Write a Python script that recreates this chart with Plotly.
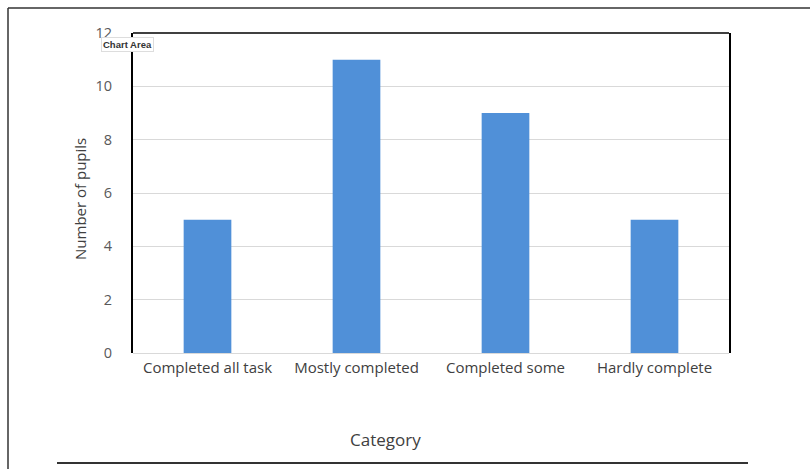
import plotly.graph_objects as go

categories = ["Completed all task", "Mostly completed", "Completed some", "Hardly complete"]
pupils = [5, 11, 9, 5]
y_ticks = [0, 2, 4, 6, 8, 10, 12]
x_title = "Category"
y_title = "Number of pupils"

W, H = 810, 469
L, R, T, B = 133, 729, 33, 353  # plot area pixel box

def px(x):
    return (x - L) / (R - L)

def py(y):
    return (B - y) / (B - T)

fig = go.Figure(go.Bar(
    x=categories, y=pupils,
    marker=dict(color="#5090d8", line=dict(width=0)),
    width=0.32,
))

font_fam = "Open Sans, DejaVu Sans, sans-serif"
fig.update_layout(
    width=W, height=H,
    margin=dict(l=L, r=W - R, t=T, b=H - B),
    paper_bgcolor="white", plot_bgcolor="white",
    showlegend=False,
    font=dict(family=font_fam, color="#595959", size=13),
    xaxis=dict(
        showgrid=False, showline=False, zeroline=False,
        tickfont=dict(size=15, color="#404040"),
        ticklabelstandoff=4,
    ),
    yaxis=dict(
        range=[0, 12], tickvals=y_ticks,
        showgrid=True, gridcolor="#d9d9d9", gridwidth=1,
        zeroline=True, zerolinecolor="#d9d9d9", zerolinewidth=1,
        showline=True, linecolor="black", linewidth=2, mirror=True,
        tickfont=dict(size=14.5, color="#595959"),
        ticklabelstandoff=16,
    ),
    shapes=[
        # top frame of plot area
        dict(type="line", xref="paper", yref="paper", x0=0, x1=1, y0=1, y1=1,
             line=dict(color="black", width=1.5)),
        # outer border lines
        dict(type="line", xref="paper", yref="paper", x0=px(8), x1=px(810), y0=py(8), y1=py(8),
             line=dict(color="#333333", width=1.5)),
        dict(type="line", xref="paper", yref="paper", x0=px(8), x1=px(8), y0=py(8), y1=py(469),
             line=dict(color="#333333", width=1.5)),
        dict(type="line", xref="paper", yref="paper", x0=px(57), x1=px(748), y0=py(463), y1=py(463),
             line=dict(color="#333333", width=2)),
    ],
    annotations=[
        dict(text=x_title, xref="paper", yref="paper", x=px(385), y=py(439),
             xanchor="center", yanchor="middle", showarrow=False,
             font=dict(size=17, color="#404040")),
        dict(text=y_title, xref="paper", yref="paper", x=px(80), y=py(199),
             xanchor="center", yanchor="middle", showarrow=False, textangle=-90,
             font=dict(size=15, color="#404040")),
        dict(text="<b>Chart Area</b>", xref="paper", yref="paper",
             x=px(127), y=py(45), xanchor="center", yanchor="middle", showarrow=False,
             font=dict(size=9.5, color="#333333", family="Arial, Liberation Sans, sans-serif"),
             bgcolor="white", bordercolor="#dddddd", borderwidth=1, borderpad=1),
    ],
)

fig.write_html("out.html")
